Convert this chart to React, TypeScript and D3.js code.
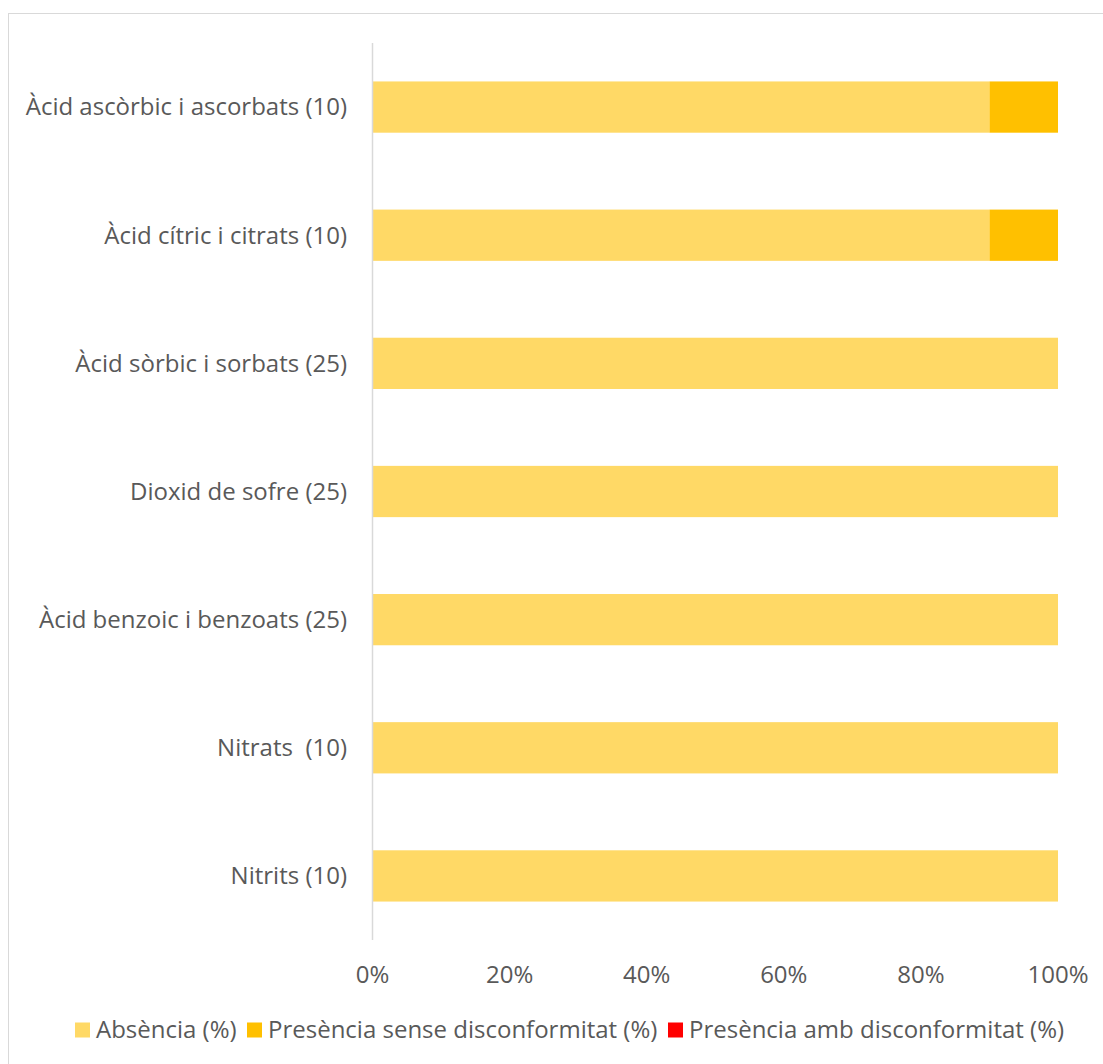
import React from "react";
import * as d3 from "d3";

const categories = [
  "Àcid ascòrbic i ascorbats (10)",
  "Àcid cítric i citrats (10)",
  "Àcid sòrbic i sorbats (25)",
  "Dioxid de sofre (25)",
  "Àcid benzoic i benzoats (25)",
  "Nitrats  (10)",
  "Nitrits (10)",
];
const absencia = [90, 90, 100, 100, 100, 100, 100];
const presenciaSense = [10, 10, 0, 0, 0, 0, 0];
const presenciaAmb = [0, 0, 0, 0, 0, 0, 0];
const seriesNames = ["Absència (%)", "Presència sense disconformitat (%)", "Presència amb disconformitat (%)"];
const seriesColors = ["#FFD966", "#FFC000", "#FF0000"];
const xTicks = [0, 20, 40, 60, 80, 100];

export default function App() {
  const W = 1103, H = 1064;
  const x = d3.scaleLinear().domain([0, 100]).range([372.5, 1058]);
  const y = d3.scaleBand().domain(categories).range([43, 940]).paddingInner(0.6).paddingOuter(0.3);
  const rows = categories.map((c, i) => ({ c, v: [absencia[i], presenciaSense[i], presenciaAmb[i]] }));
  const stack = d3.stack<any>().keys(["0", "1", "2"]).value((d: any, k: string) => d.v[+k]);
  const layers = stack(rows as any);
  const font = "'Open Sans', sans-serif";
  const textColor = "#595959";
  const legendItems = seriesNames.map((n, i) => ({ n, c: seriesColors[i] }));
  const legendX = [75, 247, 668];
  return (
    <svg width={W} height={H} style={{ position: "absolute", left: 0, top: 0 }} fontFamily={font}>
      <rect x={8.5} y={13.5} width={W} height={H} fill="white" stroke="#d9d9d9" strokeWidth={1} />
      {layers.map((layer, li) => (
        <g key={li} fill={seriesColors[li]}>
          {layer.map((d: any, i) =>
            d[1] - d[0] > 0 ? (
              <rect key={i} x={x(d[0])} y={y(categories[i])!} width={x(d[1]) - x(d[0])} height={y.bandwidth()} />
            ) : null
          )}
        </g>
      ))}
      <line x1={372.5} x2={372.5} y1={43} y2={940} stroke="#d9d9d9" strokeWidth={1.5} />
      {categories.map((c) => (
        <text key={c} x={347} y={y(c)! + y.bandwidth() / 2} dy="0.35em" textAnchor="end" fontSize={24} fill={textColor} style={{ whiteSpace: "pre" }}>
          {c}
        </text>
      ))}
      {xTicks.map((t) => (
        <text key={t} x={x(t)} y={975} dy="0.35em" textAnchor="middle" fontSize={24} fill={textColor}>
          {t}%
        </text>
      ))}
      {legendItems.map((l, i) => (
        <g key={l.n} transform={`translate(${legendX[i]},1030)`}>
          <rect x={0} y={-7.5} width={15} height={15} fill={l.c} />
          <text x={21} y={0} dy="0.35em" fontSize={24} fill={textColor}>{l.n}</text>
        </g>
      ))}
    </svg>
  );
}
